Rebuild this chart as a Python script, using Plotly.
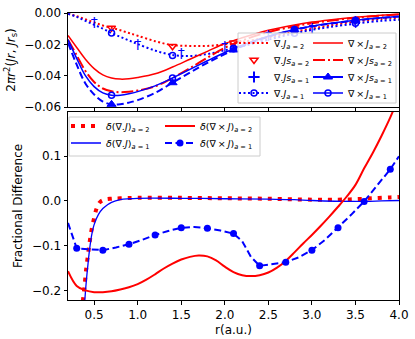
import plotly.graph_objects as go

# ---------------- top panel data ----------------
xt = [0.2, 0.3, 0.4, 0.5, 0.6, 0.7, 0.8, 0.9, 1.0, 1.2, 1.4, 1.6, 1.8, 2.0, 2.2, 2.5, 2.8, 3.0, 3.2, 3.5, 3.8, 4.0]
div_J_a2 = [-0.0005, -0.002, -0.004, -0.006, -0.008, -0.0095, -0.011, -0.0128, -0.0145, -0.018, -0.0205, -0.021, -0.021, -0.020, -0.0185, -0.0155, -0.012, -0.010, -0.008, -0.0055, -0.0038, -0.003]
div_J_a1 = [-0.0005, -0.0025, -0.005, -0.0075, -0.010, -0.0128, -0.0152, -0.0175, -0.0198, -0.024, -0.0268, -0.0275, -0.0262, -0.0238, -0.0212, -0.017, -0.013, -0.0108, -0.009, -0.0068, -0.005, -0.0043]
curl_J_a2 = [-0.0144, -0.022, -0.0295, -0.0355, -0.0395, -0.0415, -0.0422, -0.0420, -0.0412, -0.0388, -0.0345, -0.0295, -0.0245, -0.0195, -0.0158, -0.011, -0.0076, -0.0058, -0.0044, -0.0027, -0.0014, -0.0008]
curl_Js_a2 = [-0.017, -0.027, -0.037, -0.0440, -0.0482, -0.0500, -0.0506, -0.0503, -0.0495, -0.0468, -0.0415, -0.0352, -0.0285, -0.0222, -0.0175, -0.0122, -0.0085, -0.0066, -0.005, -0.0031, -0.0017, -0.001]
curl_J_a1 = [-0.017, -0.029, -0.040, -0.047, -0.0510, -0.0525, -0.0525, -0.0516, -0.0502, -0.0465, -0.0415, -0.0360, -0.0305, -0.0252, -0.0205, -0.0148, -0.0105, -0.0084, -0.0067, -0.0046, -0.003, -0.0022]
curl_Js_a1 = [-0.019, -0.033, -0.045, -0.052, -0.0565, -0.0583, -0.0582, -0.0572, -0.0556, -0.0510, -0.0445, -0.0380, -0.0318, -0.0262, -0.0212, -0.0152, -0.0107, -0.0086, -0.0069, -0.0047, -0.0031, -0.0023]

xm = [0.7, 1.4, 2.1, 2.8, 3.5]
divs_Js_a2 = [-0.0095, -0.0212, -0.019, -0.010, -0.0045]
m_div_J_a1 = [-0.0128, -0.0272, -0.0225, -0.0130, -0.0066]
m_curl_J_a1 = [-0.0525, -0.0415, -0.0228, -0.0105, -0.0046]
m_curl_Js_a1 = [-0.0583, -0.0445, -0.0236, -0.0107, -0.0047]
xd = [0.5, 1.0, 1.5, 2.0, 2.5, 3.0, 3.5]
divs_Js_a1 = [-0.0064, -0.0205, -0.0268, -0.022, -0.015, -0.0105, -0.0064]

# ---------------- bottom panel data ----------------
xb_r = [0.37, 0.39, 0.41, 0.43, 0.45, 0.47, 0.5, 0.53, 0.57, 0.62, 0.7, 0.8, 1.0, 1.5, 2.0, 2.5, 3.0, 3.3, 3.5, 3.7, 3.9, 4.0]
d_div_a2 = [-0.225, -0.19, -0.15, -0.12, -0.09, -0.065, -0.038, -0.016, -0.002, 0.003, 0.005, 0.006, 0.007, 0.007, 0.006, 0.005, 0.003, 0.003, 0.004, 0.006, 0.008, 0.009]
xb_b = [0.39, 0.41, 0.43, 0.45, 0.47, 0.5, 0.55, 0.6, 0.65, 0.7, 0.8, 0.9, 1.0, 1.5, 2.0, 2.5, 2.8, 3.0, 3.5, 3.8, 4.0]
d_div_a1 = [-0.23, -0.18, -0.14, -0.105, -0.078, -0.053, -0.03, -0.017, -0.009, -0.003, 0.003, 0.005, 0.006, 0.006, 0.005, 0.004, 0.003, 0.001, -0.001, 0.0, 0.001]
xb_c = [0.2, 0.3, 0.4, 0.5, 0.6, 0.7, 0.8, 0.9, 1.0, 1.1, 1.2, 1.3, 1.4, 1.5, 1.6, 1.7, 1.8, 1.9, 2.0, 2.1, 2.2, 2.3, 2.4, 2.5, 2.6, 2.7, 2.8, 2.9, 3.0, 3.1, 3.2, 3.3, 3.4, 3.5, 3.6, 3.7, 3.8, 3.9, 3.95]
d_curl_a2 = [-0.157, -0.19, -0.200, -0.204, -0.204, -0.202, -0.198, -0.193, -0.186, -0.176, -0.164, -0.151, -0.140, -0.131, -0.125, -0.122, -0.124, -0.133, -0.147, -0.159, -0.166, -0.168, -0.166, -0.160, -0.149, -0.134, -0.115, -0.095, -0.076, -0.056, -0.035, -0.013, 0.010, 0.036, 0.073, 0.108, 0.146, 0.187, 0.21]
xb_d = [0.2, 0.3, 0.45, 0.6, 0.75, 0.9, 1.05, 1.2, 1.35, 1.5, 1.65, 1.8, 1.95, 2.1, 2.2, 2.3, 2.4, 2.55, 2.7, 2.85, 3.0, 3.15, 3.3, 3.45, 3.6, 3.75, 3.9, 4.0]
d_curl_a1 = [-0.049, -0.106, -0.108, -0.110, -0.104, -0.097, -0.087, -0.076, -0.067, -0.060, -0.058, -0.061, -0.066, -0.073, -0.090, -0.125, -0.145, -0.141, -0.137, -0.126, -0.110, -0.087, -0.060, -0.031, -0.001, 0.036, 0.071, 0.100]
xb_dm = [0.3, 0.6, 0.9, 1.2, 1.5, 1.8, 2.1, 2.4, 2.7, 3.0, 3.3, 3.6, 3.9]
m_d_curl_a1 = [-0.106, -0.110, -0.097, -0.076, -0.060, -0.061, -0.073, -0.145, -0.137, -0.110, -0.060, -0.001, 0.071]

RED = "#ff0000"
BLUE = "#0000ff"
FONT = "DejaVu Sans"

fig = go.Figure()

def line(x, y, color, width, dash, xa="x", ya="y", shape="spline"):
    fig.add_trace(go.Scatter(x=x, y=y, mode="lines", xaxis=xa, yaxis=ya,
                             line=dict(color=color, width=width, dash=dash, shape=shape),
                             showlegend=False, hoverinfo="skip"))

def marks(x, y, color, symbol, size, lw, xa="x", ya="y"):
    fig.add_trace(go.Scatter(x=x, y=y, mode="markers", xaxis=xa, yaxis=ya,
                             marker=dict(color=color, symbol=symbol, size=size,
                                         line=dict(color=color, width=lw)),
                             showlegend=False, hoverinfo="skip"))

def leg(name, legend, mode, color, width=0, dash="solid", symbol="circle", size=6, lw=1.5):
    fig.add_trace(go.Scatter(x=[None], y=[None], mode=mode, name=name, legend=legend,
                             line=dict(color=color, width=width, dash=dash),
                             marker=dict(color=color, symbol=symbol, size=size,
                                         line=dict(color=color, width=lw))))

DOT = "2px,2.5px"
DASH = "7px,3.5px"
DASHDOT = "12px,3px,2px,3px"
SQDOT = "4px,6px"

# top panel lines
line(xt, div_J_a2, RED, 2, DOT)
line(xt, div_J_a1, BLUE, 2, DOT)
line(xt, curl_J_a2, RED, 1.5, "solid")
line(xt, curl_Js_a2, RED, 2, DASHDOT)
line(xt, curl_J_a1, BLUE, 1.5, "solid")
line(xt, curl_Js_a1, BLUE, 2, DASH)
marks(xm, divs_Js_a2, RED, "triangle-down-open", 7, 1.5)
marks(xm, m_div_J_a1, BLUE, "circle-open", 6, 1.5)
marks(xm, m_curl_J_a1, BLUE, "circle-open", 6, 1.5)
marks(xm, m_curl_Js_a1, BLUE, "triangle-up", 8, 1)
fig.add_trace(go.Scatter(x=xd, y=divs_Js_a1, mode="text", text=["†"] * len(xd),
                         textfont=dict(color=BLUE, size=14, family=FONT),
                         showlegend=False, hoverinfo="skip"))

# bottom panel lines
line(xb_r, d_div_a2, RED, 4, SQDOT, "x2", "y2")
line(xb_b, d_div_a1, BLUE, 1.3, "solid", "x2", "y2")
line(xb_c, d_curl_a2, RED, 2, "solid", "x2", "y2")
line(xb_d, d_curl_a1, BLUE, 2, DASH, "x2", "y2", shape="linear")
marks(xb_dm, m_d_curl_a1, BLUE, "circle", 7, 0, "x2", "y2")

# legend entries: one legend per cell so rows can be spaced like the original
sub2 = "<sub><i>a</i> = 2</sub>"
sub1 = "<sub><i>a</i> = 1</sub>"
TS = "\u2009"
leg("∇.<i>J</i>" + sub2, "legend", "lines", RED, 2, DOT)
leg("∇.<i>Js</i>" + sub2, "legend2", "markers", RED, symbol="triangle-down-open", size=7)
leg("∇.<i>Js</i>" + sub1, "legend3", "markers", BLUE, symbol="cross-thin-open", size=8, lw=2)
leg("∇.<i>J</i>" + sub1, "legend4", "lines+markers", BLUE, 2, DOT, "circle-open", 6)
leg("∇" + TS + "×" + TS + "<i>J</i>" + sub2, "legend5", "lines", RED, 1.5)
leg("∇" + TS + "×" + TS + "<i>Js</i>" + sub2, "legend6", "lines", RED, 2, DASHDOT)
leg("∇" + TS + "×" + TS + "<i>Js</i>" + sub1, "legend7", "lines+markers", BLUE, 2, "solid", "triangle-up", 8, 1)
leg("∇" + TS + "×" + TS + "<i>J</i>" + sub1, "legend8", "lines+markers", BLUE, 1.5, "solid", "circle-open", 6)
leg("<i>δ</i>(∇.<i>J</i>)" + sub2, "legend9", "lines", RED, 4, SQDOT)
leg("<i>δ</i>(∇.<i>J</i>)" + sub1, "legend10", "lines", BLUE, 1.3)
leg("<i>δ</i>(∇" + TS + "×" + TS + "<i>J</i>)" + sub2, "legend11", "lines", RED, 2)
leg("<i>δ</i>(∇" + TS + "×" + TS + "<i>J</i>)" + sub1, "legend12", "lines+markers", BLUE, 2, DASH, "circle", 7, 0)

L, R, T, B = 68, 16, 13, 39
W, H = 415, 339
PW, PH = W - L - R, H - T - B

def px(x):
    return (x - L) / PW

def py(y):
    return (H - B - y) / PH

axis_common = dict(showline=True, linecolor="black", linewidth=1, mirror=True,
                   ticks="outside", ticklen=3.5, tickwidth=0.8, tickcolor="black",
                   showgrid=False, zeroline=False, automargin=False,
                   tickfont=dict(family=FONT, size=12, color="black"))

lfont = dict(family=FONT, size=9.5, color="black")

def legpos(xp, yp):
    return dict(x=px(xp), y=py(yp), xanchor="left", yanchor="middle",
                bgcolor="rgba(0,0,0,0)", borderwidth=0, font=lfont, orientation="v")

top_rows = [43, 60, 77, 93]
bot_rows = [126, 143]
legends = {}
names = ["legend"] + ["legend%d" % i for i in range(2, 13)]
cells = [(234, r) for r in top_rows] + [(308, r) for r in top_rows] + \
        [(66, r) for r in bot_rows] + [(160, r) for r in bot_rows]
for n, (xx, yy) in zip(names, cells):
    legends[n] = legpos(xx, yy)

fig.update_layout(
    width=W, height=H,
    margin=dict(l=L, r=R, t=T, b=B),
    plot_bgcolor="white", paper_bgcolor="white",
    xaxis=dict(domain=[0, 1], range=[0.2, 4.0], anchor="y", showticklabels=False,
               tickvals=[0.5, 1.0, 1.5, 2.0, 2.5, 3.0, 3.5, 4.0], **axis_common),
    yaxis=dict(domain=[py(107), 1], range=[-0.06, 0.0], anchor="x",
               tickvals=[0.0, -0.02, -0.04, -0.06], tickformat=".2f",
               title=dict(text="2<i>πr</i><sup>2</sup>(<i>Jr</i>, <i>Jr</i><sub>s</sub>)",
                          font=dict(family=FONT, size=12, color="black"), standoff=6),
               **axis_common),
    xaxis2=dict(domain=[0, 1], range=[0.2, 4.0], anchor="y2",
                tickvals=[0.5, 1.0, 1.5, 2.0, 2.5, 3.0, 3.5, 4.0], tickformat=".1f",
                title=dict(text="r(a.u.)", font=dict(family=FONT, size=12, color="black"), standoff=4),
                **axis_common),
    yaxis2=dict(domain=[0, py(112)], range=[-0.2215, 0.199], anchor="x2",
                tickvals=[0.1, 0.0, -0.1, -0.2], tickformat=".1f",
                title=dict(text="Fractional Difference", font=dict(family=FONT, size=12, color="black"), standoff=6),
                **axis_common),
    shapes=[
        dict(type="rect", xref="paper", yref="paper", x0=px(238), x1=px(396), y0=py(103), y1=py(33),
             line=dict(color="#cccccc", width=1), fillcolor="rgba(255,255,255,0.8)", layer="above"),
        dict(type="rect", xref="paper", yref="paper", x0=px(69), x1=px(260), y0=py(156), y1=py(117),
             line=dict(color="#cccccc", width=1), fillcolor="rgba(255,255,255,0.8)", layer="above"),
    ],
    **legends,
)

fig.write_html("out.html", config={"displayModeBar": False},
               post_script="document.body.style.margin='0px';")
